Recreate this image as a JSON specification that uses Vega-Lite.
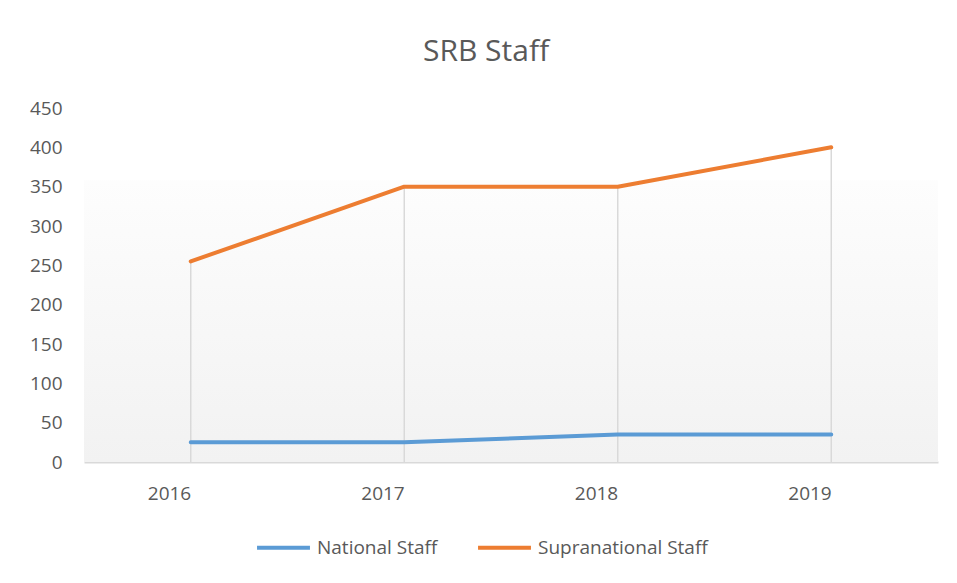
{
  "$schema": "https://vega.github.io/schema/vega-lite/v6.json",
  "autosize": {"type": "none"},
  "width": 854,
  "height": 354,
  "padding": {"left": 84, "top": 108, "right": 19, "bottom": 121},
  "background": "white",
  "title": {
    "text": "SRB Staff",
    "font": "Open Sans",
    "fontSize": 30,
    "fontWeight": "normal",
    "color": "#595959",
    "anchor": "middle",
    "dx": -25,
    "offset": 32
  },
  "datasets": {
    "staff": [
      {"year": "2016", "series": "National Staff", "value": 25},
      {"year": "2017", "series": "National Staff", "value": 25},
      {"year": "2018", "series": "National Staff", "value": 35},
      {"year": "2019", "series": "National Staff", "value": 35},
      {"year": "2016", "series": "Supranational Staff", "value": 255},
      {"year": "2017", "series": "Supranational Staff", "value": 350},
      {"year": "2018", "series": "Supranational Staff", "value": 350},
      {"year": "2019", "series": "Supranational Staff", "value": 400}
    ],
    "bg": [{"lo": 0, "hi": 358}]
  },
  "encoding": {
    "y": {
      "type": "quantitative",
      "scale": {"domain": [0, 450], "nice": false, "zero": true},
      "axis": {
        "title": null,
        "values": [0, 50, 100, 150, 200, 250, 300, 350, 400, 450],
        "tickCount": 10,
        "labelOverlap": false,
        "labelSeparation": 0
      }
    }
  },
  "layer": [
    {
      "data": {"name": "bg"},
      "mark": {
        "type": "rect",
        "color": {
          "gradient": "linear",
          "x1": 0, "y1": 0, "x2": 0, "y2": 1,
          "stops": [
            {"offset": 0, "color": "#fdfdfd"},
            {"offset": 1, "color": "#f2f2f2"}
          ]
        }
      },
      "encoding": {
        "y": {"field": "lo"},
        "y2": {"field": "hi"}
      }
    },
    {
      "data": {"name": "staff"},
      "transform": [{"filter": "datum.series == 'Supranational Staff'"}],
      "mark": {"type": "rule", "color": "#d9d9d9", "strokeWidth": 1.5},
      "encoding": {
        "x": {"field": "year", "type": "ordinal"},
        "y": {"field": "value"},
        "y2": {"datum": 0}
      }
    },
    {
      "data": {"name": "staff"},
      "mark": {"type": "line", "strokeWidth": 4, "strokeCap": "round", "strokeJoin": "round"},
      "encoding": {
        "x": {
          "field": "year",
          "type": "ordinal",
          "scale": {"type": "point", "padding": 0.5},
          "axis": {
            "title": null,
            "domainColor": "#d9d9d9",
            "domainWidth": 2,
            "labelAngle": 0,
            "labelPadding": 31
          }
        },
        "y": {"field": "value"},
        "color": {
          "field": "series",
          "type": "nominal",
          "scale": {
            "domain": ["National Staff", "Supranational Staff"],
            "range": ["#5b9bd5", "#ed7d31"]
          },
          "legend": {
            "title": null,
            "orient": "none",
            "legendX": 171,
            "legendY": 411,
            "direction": "horizontal",
            "symbolType": "stroke",
            "symbolSize": 2800,
            "symbolStrokeWidth": 4,
            "labelFont": "Open Sans",
            "labelFontSize": 19,
            "labelColor": "#595959",
            "labelLimit": 400,
            "labelOffset": 5,
            "columnPadding": 32
          }
        }
      }
    }
  ],
  "config": {
    "view": {"stroke": null},
    "axis": {
      "labelOverlap": false,
      "labelFont": "Open Sans",
      "labelFontSize": 19,
      "labelColor": "#595959",
      "grid": false,
      "ticks": false
    },
    "axisY": {
      "domain": false,
      "labelPadding": 22
    }
  }
}
